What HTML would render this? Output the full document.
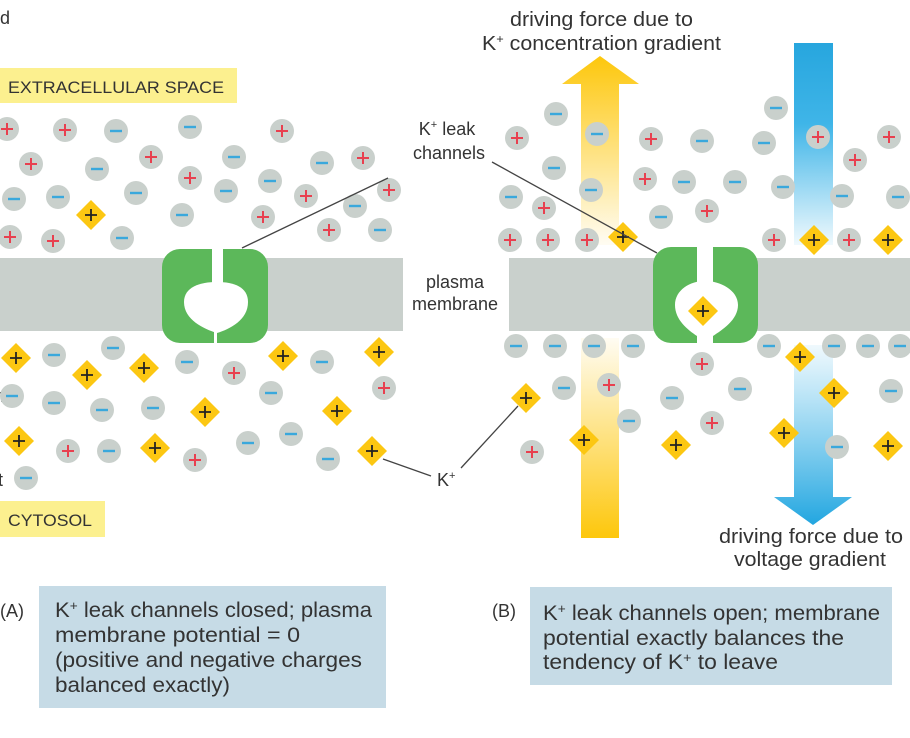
<!DOCTYPE html>
<html><head><meta charset="utf-8"><style>
html,body{margin:0;padding:0;background:#fff;width:910px;height:738px;overflow:hidden}
svg{display:block}
text{font-family:"Liberation Sans",sans-serif;fill:#333}
</style></head><body>
<svg width="910" height="738" viewBox="0 0 910 738" xmlns="http://www.w3.org/2000/svg" xmlns:xlink="http://www.w3.org/1999/xlink">
<defs>
<symbol id="p" overflow="visible"><circle r="12" fill="#c9d0cc"/><path d="M-6 0H6M0 -6V6" stroke="#e8404f" stroke-width="2"/></symbol>
<symbol id="m" overflow="visible"><circle r="12" fill="#c9d0cc"/><path d="M-6 0H6" stroke="#3aa8dc" stroke-width="2.4"/></symbol>
<symbol id="k" overflow="visible"><path d="M0 -15L15 0L0 15L-15 0Z" fill="#fcc712"/><path d="M-6 0H6M0 -6V6" stroke="#222" stroke-width="1.8"/></symbol>
<linearGradient id="yt" x1="0" y1="0" x2="0" y2="1"><stop offset="0" stop-color="#fdc70c"/><stop offset="1" stop-color="#fdc70c" stop-opacity="0.05"/></linearGradient>
<linearGradient id="yb" x1="0" y1="0" x2="0" y2="1"><stop offset="0" stop-color="#fdc70c" stop-opacity="0.05"/><stop offset="1" stop-color="#fdc70c"/></linearGradient>
<linearGradient id="bt" x1="0" y1="0" x2="0" y2="1"><stop offset="0" stop-color="#27a6de"/><stop offset="0.4" stop-color="#3fb5e8"/><stop offset="1" stop-color="#3fb5e8" stop-opacity="0.08"/></linearGradient>
<linearGradient id="bb" x1="0" y1="0" x2="0" y2="1"><stop offset="0" stop-color="#3fb5e8" stop-opacity="0.08"/><stop offset="1" stop-color="#22a6e0"/></linearGradient>
</defs>

<text x="0" y="24" font-size="18" fill="#222">d</text>
<text x="-4" y="198" font-size="18" fill="#222">l</text>
<text x="-6" y="402" font-size="18" fill="#222">n</text>
<text x="-2" y="486" font-size="18" fill="#222">t</text>

<rect x="0" y="68" width="237" height="35" fill="#fcf08f"/>
<text x="8" y="93" font-size="17" textLength="216" lengthAdjust="spacingAndGlyphs">EXTRACELLULAR SPACE</text>
<rect x="0" y="501" width="105" height="36" fill="#fcf08f"/>
<text x="8" y="526" font-size="17" textLength="84" lengthAdjust="spacingAndGlyphs">CYTOSOL</text>

<path d="M600 56L639 84H619V245H581V84H562Z" fill="url(#yt)"/>
<rect x="581" y="338" width="38" height="200" fill="url(#yb)"/>
<rect x="794" y="43" width="39" height="202" fill="url(#bt)"/>
<path d="M794 345H833V497H852L813 525L774 497H794Z" fill="url(#bb)"/>

<rect x="0" y="258" width="403" height="73" fill="#c9d0cc"/>
<rect x="509" y="258" width="401" height="73" fill="#c9d0cc"/>

<rect x="162" y="249" width="106" height="94" rx="18" fill="#5cb85a"/>
<rect x="212" y="247" width="11" height="40" fill="#fff"/>
<path d="M184 302C184 287 200 282 217 282C234 282 248 287 248 302C248 320 230 329 217 333C204 329 184 320 184 302Z" fill="#fff"/>
<rect x="214" y="330" width="3" height="14" fill="#fff"/>

<rect x="653" y="247" width="105" height="96" rx="18" fill="#5cb85a"/>
<rect x="697" y="245" width="16" height="40" fill="#fff"/>
<path d="M675 305C675 290 690 281 705 281C720 281 738 290 738 305C738 320 722 330 713 336V345H697V336C688 330 675 320 675 305Z" fill="#fff"/>
<use href="#k" x="703" y="311"/>

<use href="#p" x="7" y="129"/><use href="#p" x="65" y="130"/><use href="#m" x="116" y="131"/><use href="#m" x="190" y="127"/><use href="#p" x="282" y="131"/>
<use href="#p" x="31" y="164"/><use href="#m" x="97" y="169"/><use href="#p" x="151" y="157"/><use href="#m" x="234" y="157"/><use href="#m" x="322" y="163"/><use href="#p" x="363" y="158"/>
<use href="#m" x="14" y="199"/><use href="#m" x="58" y="197"/><use href="#k" x="91" y="215"/><use href="#m" x="136" y="193"/><use href="#p" x="190" y="178"/><use href="#m" x="226" y="191"/><use href="#m" x="270" y="181"/><use href="#p" x="306" y="196"/><use href="#m" x="355" y="206"/><use href="#p" x="389" y="190"/>
<use href="#p" x="10" y="237"/><use href="#p" x="53" y="241"/><use href="#m" x="122" y="238"/><use href="#m" x="182" y="215"/><use href="#p" x="263" y="217"/><use href="#p" x="329" y="230"/><use href="#m" x="380" y="230"/>

<use href="#k" x="16" y="358"/><use href="#m" x="54" y="355"/><use href="#m" x="113" y="348"/><use href="#k" x="87" y="375"/><use href="#k" x="144" y="368"/><use href="#m" x="187" y="362"/><use href="#p" x="234" y="373"/><use href="#k" x="283" y="356"/><use href="#m" x="322" y="362"/><use href="#k" x="379" y="352"/>
<use href="#m" x="12" y="396"/><use href="#m" x="54" y="403"/><use href="#m" x="102" y="410"/><use href="#m" x="153" y="408"/><use href="#k" x="205" y="412"/><use href="#m" x="271" y="393"/><use href="#k" x="337" y="411"/><use href="#p" x="384" y="388"/>
<use href="#k" x="19" y="441"/><use href="#p" x="68" y="451"/><use href="#m" x="109" y="451"/><use href="#k" x="155" y="448"/><use href="#p" x="195" y="460"/><use href="#m" x="248" y="443"/><use href="#m" x="291" y="434"/><use href="#m" x="328" y="459"/><use href="#k" x="372" y="451"/>
<use href="#m" x="26" y="478"/>

<use href="#m" x="556" y="114"/><use href="#p" x="517" y="138"/><use href="#m" x="597" y="134"/><use href="#p" x="651" y="139"/><use href="#m" x="702" y="141"/><use href="#m" x="776" y="108"/><use href="#m" x="764" y="143"/><use href="#p" x="818" y="137"/><use href="#p" x="889" y="137"/>
<use href="#m" x="554" y="168"/><use href="#p" x="855" y="160"/><use href="#p" x="645" y="179"/><use href="#m" x="684" y="182"/><use href="#m" x="735" y="182"/><use href="#m" x="783" y="187"/>
<use href="#m" x="511" y="197"/><use href="#p" x="544" y="208"/><use href="#m" x="591" y="190"/><use href="#m" x="661" y="217"/><use href="#p" x="707" y="211"/><use href="#m" x="842" y="196"/><use href="#m" x="898" y="197"/>
<use href="#p" x="510" y="240"/><use href="#p" x="548" y="240"/><use href="#p" x="587" y="240"/><use href="#k" x="623" y="237"/><use href="#p" x="774" y="240"/><use href="#k" x="814" y="240"/><use href="#p" x="849" y="240"/><use href="#k" x="888" y="240"/>

<use href="#m" x="516" y="346"/><use href="#m" x="555" y="346"/><use href="#m" x="594" y="346"/><use href="#m" x="633" y="346"/><use href="#p" x="702" y="364"/><use href="#m" x="769" y="346"/><use href="#m" x="834" y="346"/><use href="#m" x="868" y="346"/><use href="#m" x="900" y="346"/><use href="#k" x="800" y="357"/>
<use href="#k" x="526" y="398"/><use href="#m" x="564" y="388"/><use href="#p" x="609" y="385"/><use href="#m" x="672" y="398"/><use href="#m" x="740" y="389"/><use href="#p" x="712" y="423"/><use href="#m" x="629" y="421"/><use href="#k" x="834" y="393"/><use href="#m" x="891" y="391"/>
<use href="#p" x="532" y="452"/><use href="#k" x="584" y="440"/><use href="#k" x="676" y="445"/><use href="#k" x="784" y="433"/><use href="#m" x="837" y="447"/><use href="#k" x="888" y="446"/>

<g stroke="#444" stroke-width="1.3">
<line x1="388" y1="178" x2="242" y2="248"/>
<line x1="492" y1="162" x2="657" y2="253"/>
<line x1="383" y1="459" x2="431" y2="476"/>
<line x1="518" y1="406" x2="461" y2="468"/>
</g>

<text x="447" y="135" font-size="18" text-anchor="middle">K<tspan font-size="11" dy="-7">+</tspan><tspan dy="7"> leak</tspan></text>
<text x="449" y="159" font-size="18" text-anchor="middle">channels</text>
<text x="455" y="288" font-size="18" text-anchor="middle">plasma</text>
<text x="455" y="310" font-size="18" text-anchor="middle">membrane</text>
<text x="437" y="486" font-size="18">K<tspan font-size="11" dy="-7">+</tspan></text>

<text x="510" y="26" font-size="20" textLength="183" lengthAdjust="spacingAndGlyphs">driving force due to</text>
<text x="482" y="50" font-size="20" textLength="239" lengthAdjust="spacingAndGlyphs">K<tspan font-size="12" dy="-7">+</tspan><tspan dy="7"> concentration gradient</tspan></text>
<text x="719" y="543" font-size="20" textLength="184" lengthAdjust="spacingAndGlyphs">driving force due to</text>
<text x="734" y="566" font-size="20" textLength="152" lengthAdjust="spacingAndGlyphs">voltage gradient</text>

<rect x="39" y="586" width="347" height="122" fill="#c6dbe6"/>
<text x="0" y="617" font-size="18">(A)</text>
<text x="55" y="617" font-size="21" textLength="317" lengthAdjust="spacingAndGlyphs">K<tspan font-size="13" dy="-7">+</tspan><tspan dy="7"> leak channels closed; plasma</tspan></text>
<text x="55" y="642" font-size="21" textLength="245" lengthAdjust="spacingAndGlyphs">membrane potential = 0</text>
<text x="55" y="667" font-size="21" textLength="307" lengthAdjust="spacingAndGlyphs">(positive and negative charges</text>
<text x="55" y="692" font-size="21" textLength="175" lengthAdjust="spacingAndGlyphs">balanced exactly)</text>

<rect x="530" y="587" width="362" height="98" fill="#c6dbe6"/>
<text x="492" y="617" font-size="18">(B)</text>
<text x="543" y="620" font-size="21" textLength="337" lengthAdjust="spacingAndGlyphs">K<tspan font-size="13" dy="-7">+</tspan><tspan dy="7"> leak channels open; membrane</tspan></text>
<text x="543" y="645" font-size="21" textLength="301" lengthAdjust="spacingAndGlyphs">potential exactly balances the</text>
<text x="543" y="669" font-size="21" textLength="235" lengthAdjust="spacingAndGlyphs">tendency of K<tspan font-size="13" dy="-7">+</tspan><tspan dy="7"> to leave</tspan></text>
</svg>
</body></html>
